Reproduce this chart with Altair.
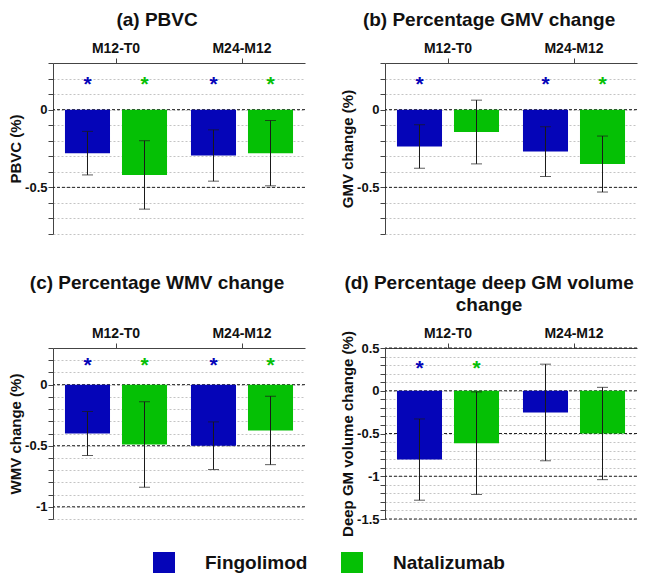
import altair as alt
import pandas as pd

groups = ["M12-T0", "M24-M12"]
drugs = ["Fingolimod", "Natalizumab"]
colors = ["#0505b8", "#05c005"]

# order: M12-T0 Fingolimod, M12-T0 Natalizumab, M24-M12 Fingolimod, M24-M12 Natalizumab
pbvc_mean = [-0.28, -0.42, -0.295, -0.28]
pbvc_sd = [0.14, 0.22, 0.165, 0.21]
pbvc_star = [1, 1, 1, 1]

gmv_mean = [-0.237, -0.144, -0.27, -0.35]
gmv_sd = [0.14, 0.205, 0.16, 0.18]
gmv_star = [1, 0, 1, 1]

wmv_mean = [-0.40, -0.49, -0.50, -0.375]
wmv_sd = [0.18, 0.35, 0.195, 0.28]
wmv_star = [1, 1, 1, 1]

dgm_mean = [-0.805, -0.613, -0.254, -0.50]
dgm_sd = [0.475, 0.60, 0.565, 0.54]
dgm_star = [1, 1, 0, 0]

FONT = "Liberation Sans"
W, H = 252, 171

LABEL_EXPR = ("abs(datum.value*2 - round(datum.value*2)) < 0.001 ? "
              "(datum.value < -0.0001 ? '-' + format(-datum.value, '~g') : format(abs(datum.value), '~g')) : ''")


def panel(title, ytitle, mean, sd, star, dom, dark, star_y):
    rows = []
    i = 0
    for g in groups:
        for d in drugs:
            rows.append(dict(group=g, drug=d, mean=mean[i], lo=mean[i] - sd[i],
                             hi=mean[i] + sd[i], star=star[i], sy=star_y))
            i += 1
    df = pd.DataFrame(rows)
    n = int(round((dom[1] - dom[0]) / 0.1))
    ticks = [round(dom[0] + 0.1 * k, 2) for k in range(n + 1)]

    yscale = alt.Scale(domain=dom, nice=False, zero=False)
    yaxis = alt.Axis(values=ticks, labelExpr=LABEL_EXPR, grid=True,
                     gridColor="#c4c4c4", gridDash=[2, 2], gridWidth=1,
                     tickSize=5, tickColor="#444", domainColor="#444",
                     labelFontSize=13, labelFontWeight="bold", labelPadding=1,
                     titleFontSize=15, titleFontWeight="bold", titlePadding=1,
                     labelColor="#111", titleColor="#111")

    def Y(field):
        return alt.Y(field, scale=yscale, axis=yaxis, title=ytitle, stack=None)

    x = alt.X("group:N", sort=groups, scale=alt.Scale(paddingInner=0, paddingOuter=0),
              axis=alt.Axis(orient="top", title=None, labelAngle=0, labelFontSize=14,
                            labelFontWeight="bold", tickSize=5, labelPadding=3,
                            domainColor="#444", tickColor="#444", grid=False,
                            labelColor="#111"))
    xo = alt.XOffset("drug:N", sort=drugs,
                     scale=alt.Scale(paddingInner=0.21, paddingOuter=0.21))
    color = alt.Color("drug:N", sort=drugs,
                      scale=alt.Scale(domain=drugs, range=colors),
                      legend=alt.Legend(title=None))

    base = alt.Chart(df)
    darkrules = alt.Chart(pd.DataFrame({"v": dark})).mark_rule(
        color="#222", strokeDash=[3, 2], strokeWidth=1).encode(y=Y("v:Q"))
    bars = base.mark_bar().encode(x=x, xOffset=xo, y=Y("mean:Q"), y2=alt.datum(0), color=color)
    err = base.mark_rule(color="#1a1a1a", strokeWidth=1).encode(
        x=x, xOffset=xo, y=Y("lo:Q"), y2="hi:Q")
    cap_lo = base.mark_tick(color="#1a1a1a", thickness=1, size=11).encode(
        x=x, xOffset=xo, y=Y("lo:Q"))
    cap_hi = base.mark_tick(color="#1a1a1a", thickness=1, size=11).encode(
        x=x, xOffset=xo, y=Y("hi:Q"))
    stars = base.transform_filter("datum.star == 1").mark_text(
        text="*", fontSize=21, fontWeight="bold", baseline="alphabetic", dy=12,
        font=FONT).encode(x=x, xOffset=xo, y=Y("sy:Q"), color=color)

    return alt.layer(darkrules, bars, err, cap_lo, cap_hi, stars).properties(
        width=W, height=H,
        title=alt.TitleParams(text=title, fontSize=19, fontWeight="bold",
                              anchor="middle", frame="bounds", offset=11,
                              lineHeight=22, color="#111"))


a = panel(["(a) PBVC"], "PBVC (%)", pbvc_mean, pbvc_sd, pbvc_star,
          [-0.8, 0.3], [0, -0.5], 0.2)
b = panel(["(b) Percentage GMV change"], "GMV change (%)", gmv_mean, gmv_sd, gmv_star,
          [-0.8, 0.3], [0, -0.5], 0.2)
c = panel(["(c) Percentage WMV change", " "], "WMV change (%)", wmv_mean, wmv_sd, wmv_star,
          [-1.1, 0.3], [0, -0.5, -1], 0.2)
d = panel(["(d) Percentage deep GM volume", "change"], "Deep GM volume change (%)",
          dgm_mean, dgm_sd, dgm_star, [-1.5, 0.5], [0.5, 0, -0.5, -1, -1.5], 0.33)

chart = alt.concat(
    a, b, c, d, columns=2, bounds="flush",
    spacing=alt.RowColnumber(row=114, column=80)
).resolve_scale(
    x="independent", y="independent", color="shared"
).properties(
    padding={"left": 0, "top": 3, "right": 0, "bottom": 0}
).configure(font=FONT).configure_view(stroke=None).configure_axisY(
    labelFontSize=13, titleFontSize=15, labelFontWeight="bold", titleFontWeight="bold"
).configure_legend(
    orient="none", legendX=100, legendY=489, direction="horizontal",
    symbolType="square", symbolSize=484, symbolStrokeWidth=0,
    labelFontSize=19, labelFontWeight="bold", labelOffset=30,
    columnPadding=33, labelColor="#111", labelFont=FONT
)

chart.save("out.html", embed_options={"renderer": "svg", "actions": False})
